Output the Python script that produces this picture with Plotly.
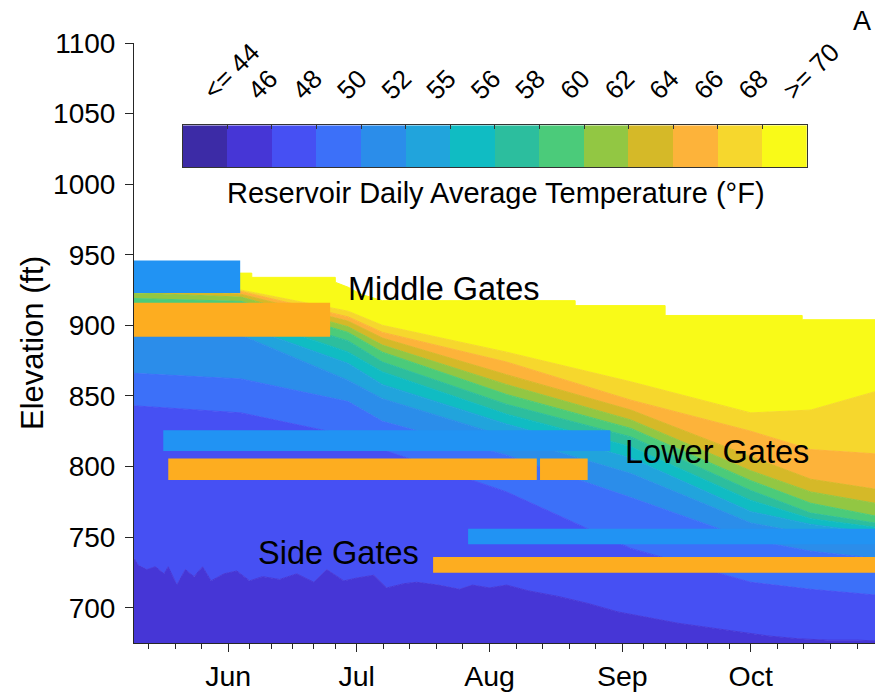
import numpy as np
import pandas as pd
import plotly.graph_objects as go

FONT = "Liberation Sans, Arial, Helvetica, sans-serif"
INK = "#262626"

# ---------------- colour classes (legend) ----------------
temp_labels = ["<= 44", "46", "48", "50", "52", "55", "56", "58", "60", "62", "64", "66", "68", ">= 70"]
temp_colors = ["#3c2ba6", "#4636d6", "#4650f3", "#3c70f9", "#2b8dea", "#21a4dc", "#10bcc3",
               "#2cbe9e", "#4bcb7a", "#92c743", "#d5b928", "#fdb33a", "#f6d72d", "#f9fa18"]

# ---------------- isotherm tops (ft) ----------------
top_46_dates = ["2018-05-10", "2018-05-11", "2018-05-13", "2018-05-15", "2018-05-17", "2018-05-18",
                "2018-05-20", "2018-05-22", "2018-05-24", "2018-05-26", "2018-05-28", "2018-05-31",
                "2018-06-03", "2018-06-06", "2018-06-09", "2018-06-13", "2018-06-17", "2018-06-21",
                "2018-06-24", "2018-06-28", "2018-07-01", "2018-07-05", "2018-07-08", "2018-07-12",
                "2018-07-15", "2018-07-20", "2018-07-25", "2018-07-28", "2018-08-01", "2018-08-05",
                "2018-08-10", "2018-08-17", "2018-08-24", "2018-08-31", "2018-09-07", "2018-09-14",
                "2018-09-21", "2018-09-28", "2018-10-05", "2018-10-12", "2018-10-19", "2018-10-26",
                "2018-10-30"]
top_46 = [735, 730, 727, 729, 724, 729, 716, 727, 722, 729, 719, 724,
          726, 719, 722, 720, 724, 718, 727, 719, 721, 723, 714, 717,
          718, 716, 713, 716, 714, 716, 712, 708, 703, 697, 693, 689,
          686, 683, 680, 678, 677, 677, 676.5]

key_dates = ["2018-05-10", "2018-06-04", "2018-06-29", "2018-07-07", "2018-08-05",
             "2018-09-03", "2018-10-01", "2018-10-15", "2018-10-30"]
top_48 = [843, 838, 822, 812, 782, 742, 718, 713, 709]
top_50 = [866, 862, 846, 832, 808, 778, 748, 740, 735]
top_52 = [893, 893, 861, 848, 821, 795, 760, 752, 746]
top_55 = [899, 900, 873, 858, 830, 806, 768, 759, 753]
top_56 = [906, 907, 881, 867, 837, 814, 776, 763, 757]
top_58 = [913, 912, 889, 874, 844, 821, 783, 767, 760]
top_60 = [919, 917, 895, 881, 851, 827, 790, 774, 765]
top_62 = [923, 920, 899, 886, 858, 833, 797, 782, 774]
top_64 = [927, 922, 903, 891, 865, 840, 807, 791, 784]
top_66 = [931, 924, 906, 895, 874, 847, 825, 812, 809]
top_68 = [934, 925, 910, 900, 881, 860, 838, 840, 853]

# water surface elevation (ft)
surface_dates = ["2018-05-10", "2018-06-06 12:00", "2018-06-06 12:00", "2018-06-26", "2018-06-26",
                 "2018-06-29", "2018-07-02", "2018-07-07", "2018-08-21", "2018-08-21",
                 "2018-09-11", "2018-09-11", "2018-10-13", "2018-10-13", "2018-10-30"]
surface_elev = [937, 937, 934, 934, 930.5, 927, 922, 917.5, 917.5, 914, 914, 907, 907, 904, 904]

# ---------------- gate operation bars ----------------
gate_start = ["2018-05-10 00:00", "2018-05-10 00:00", "2018-05-16 20:00", "2018-05-18 00:00",
              "2018-08-12 19:00", "2018-07-27 00:00", "2018-07-18 20:00"]
gate_end = ["2018-06-03 19:00", "2018-06-24 19:00", "2018-08-29 05:00", "2018-08-12 01:00",
            "2018-08-23 22:00", "2018-10-30 00:00", "2018-10-30 00:00"]
gate_low = [923, 892, 811, 790.5, 790.5, 745, 724.7]
gate_high = [946, 916, 825.7, 805.7, 805.7, 756, 736]
gate_color = ["#2193f3", "#fdad20", "#2193f3", "#fdad20", "#fdad20", "#2193f3", "#fdad20"]

gate_text = ["Middle Gates", "Lower Gates", "Side Gates"]
gate_text_x = ["2018-06-28 12:00", "2018-09-01 05:00", "2018-06-07 11:00"]
gate_text_y = [925.6, 810.3, 739.0]

month_ticks = ["2018-06-01", "2018-07-01", "2018-08-01", "2018-09-01", "2018-10-01"]
month_labels = ["Jun", "Jul", "Aug", "Sep", "Oct"]
elev_ticks = [700, 750, 800, 850, 900, 950, 1000, 1050, 1100]

# minor ticks: months split in 5 (31-day) or 6 (30-day) parts
minor_vals = []
for m in range(5, 11):
    start = pd.Timestamp(2018, m, 1)
    nd = start.days_in_month
    nparts = 5 if nd == 31 else 6
    for k in range(1, nparts):
        minor_vals.append((start + pd.Timedelta(days=nd / nparts * k)).isoformat())

fig = go.Figure()

# stacked temperature bands
fig.add_trace(go.Scatter(x=top_46_dates, y=top_46, mode="lines", fill="tozeroy",
                         fillcolor=temp_colors[1], line=dict(color=temp_colors[1], width=1),
                         hoverinfo="skip", showlegend=False))
band_tops = [top_48, top_50, top_52, top_55, top_56, top_58, top_60, top_62, top_64, top_66, top_68]
for i, tops in enumerate(band_tops):
    c = temp_colors[i + 2]
    fig.add_trace(go.Scatter(x=key_dates, y=tops, mode="lines", fill="tonexty",
                             fillcolor=c, line=dict(color=c, width=1),
                             hoverinfo="skip", showlegend=False))
fig.add_trace(go.Scatter(x=surface_dates, y=surface_elev, mode="lines", fill="tonexty",
                         fillcolor=temp_colors[13], line=dict(color=temp_colors[13], width=1),
                         hoverinfo="skip", showlegend=False))

# gate bars (drawn as filled rectangles above the bands)
for s, e, lo, hi, c in zip(gate_start, gate_end, gate_low, gate_high, gate_color):
    fig.add_trace(go.Scatter(x=[s, e, e, s, s], y=[lo, lo, hi, hi, lo], mode="lines",
                             fill="toself", fillcolor=c, line=dict(color=c, width=0),
                             hoverinfo="skip", showlegend=False))

# inset colour legend
n = len(temp_colors)
cscale = []
for i, c in enumerate(temp_colors):
    cscale.append([i / n, c])
    cscale.append([(i + 1) / n, c])
fig.add_trace(go.Heatmap(z=[list(range(n))], x=list(range(n)), y=[0], colorscale=cscale,
                         zmin=-0.5, zmax=n - 0.5, showscale=False, xaxis="x2", yaxis="y2",
                         hoverinfo="skip"))

for t, x, y in zip(gate_text, gate_text_x, gate_text_y):
    fig.add_annotation(x=x, y=y, text=t, showarrow=False, xanchor="left", yanchor="middle",
                       font=dict(family=FONT, size=32.5, color="black"))

fig.add_annotation(xref="paper", yref="paper", x=(496 - 134) / 741, y=(642.7 - 193) / 600,
                   text="Reservoir Daily Average Temperature (°F)", showarrow=False,
                   xanchor="center", yanchor="middle", font=dict(family=FONT, size=29, color="black"))
fig.add_annotation(xref="paper", yref="paper", x=(32 - 134) / 741, y=0.5, text="Elevation (ft)",
                   textangle=-90, showarrow=False, xanchor="center", yanchor="middle",
                   font=dict(family=FONT, size=31, color="black"))
fig.add_annotation(xref="paper", yref="paper", x=(862 - 134) / 741, y=(642.7 - 21) / 600, text="A",
                   showarrow=False, xanchor="center", yanchor="middle",
                   font=dict(family=FONT, size=27, color="black"))

fig.update_layout(
    template="none",
    width=875, height=695, autosize=False,
    margin=dict(l=134, r=0, t=43, b=52, pad=0),
    paper_bgcolor="white", plot_bgcolor="white",
    showlegend=False,
    font=dict(family=FONT, color="black"),
    xaxis=dict(type="date", range=["2018-05-10", "2018-10-30"], tickmode="array",
               tickvals=month_ticks, ticktext=month_labels, ticks="outside", ticklen=8,
               tickwidth=1, tickcolor=INK, showline=True, linecolor=INK, linewidth=1,
               showgrid=False, zeroline=False, automargin=False,
               tickfont=dict(size=28.5, color="black"),
               minor=dict(tickmode="array", tickvals=minor_vals, ticks="outside", ticklen=5,
                          tickcolor=INK, showgrid=False)),
    yaxis=dict(range=[675, 1100], tickmode="array", tickvals=elev_ticks, ticks="outside",
               ticklen=8, tickwidth=1, tickcolor=INK, showline=True, linecolor=INK, linewidth=1,
               showgrid=False, zeroline=False, automargin=False, ticklabelstandoff=4,
               tickfont=dict(size=28, color="black")),
    xaxis2=dict(domain=[(182.7 - 134) / 741, (807 - 134) / 741], anchor="y2",
                range=[-0.5, n - 0.5], side="top", tickmode="array", tickvals=list(range(n)),
                ticktext=temp_labels, tickangle=-45, ticks="", showline=True, mirror=True,
                linecolor="#333333", linewidth=1, showgrid=False, zeroline=False,
                automargin=False, tickfont=dict(size=26, color="black"), ticklabelstandoff=9,
                minor=dict(tickmode="array", tickvals=[i + 0.5 for i in range(n - 1)],
                           ticks="inside", ticklen=4, tickcolor="#333333", showgrid=False)),
    yaxis2=dict(domain=[(642.7 - 166.7) / 600, (642.7 - 125) / 600], anchor="x2",
                range=[-0.5, 0.5], showticklabels=False, ticks="", showline=True, mirror=True,
                linecolor="#333333", linewidth=1, showgrid=False, zeroline=False,
                automargin=False),
)

fig.write_html("out.html")
